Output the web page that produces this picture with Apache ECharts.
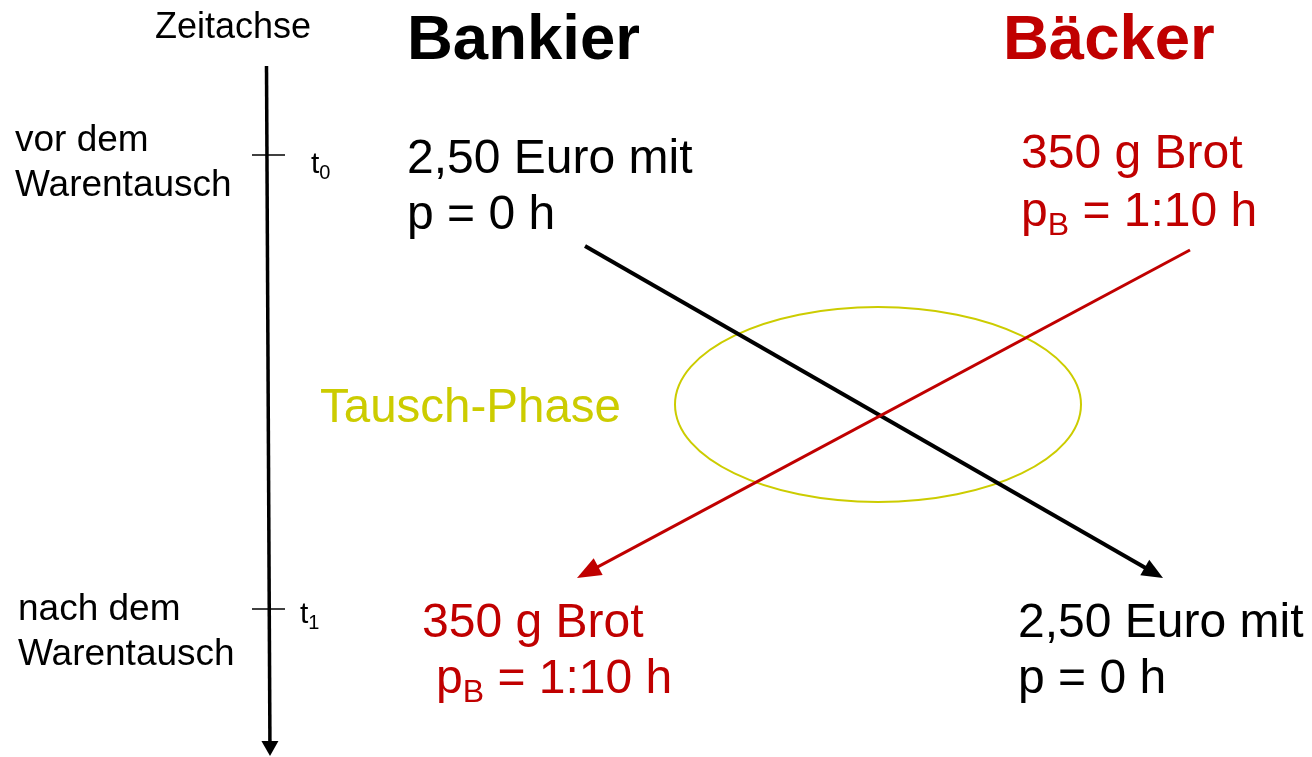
<!DOCTYPE html>
<html><head><meta charset="utf-8">
<script src="https://cdn.jsdelivr.net/npm/echarts@6/dist/echarts.min.js"></script>
<style>html,body{margin:0;padding:0;background:#fff}#c{width:1312px;height:757px}</style>
</head><body><div id="c"></div>
<script>
// Diagram data (in a pixel-like value space 0..1312 x 0..757, y downward)
const timeAxisArrow = [[266.5, 66, 270, 756]];
const tickMarks = [[252, 155, 283, 155], [252, 609, 283, 609]];
const bankierArrow = [[585, 246, 1163, 578]];
const baeckerArrow = [[1190, 250, 577, 578]];
const exchangeEllipse = [[878, 404.5, 203, 97.5]];

const FONT = "'Liberation Sans', Arial, sans-serif";
const RED = '#c00000';
const YEL = '#cccc00';
const DY = 3;

function arrowRender(color, width, headLen, headW) {
  return function (params, api) {
    const p1 = api.coord([api.value(0), api.value(1)]);
    const p2 = api.coord([api.value(2), api.value(3)]);
    const dx = p2[0] - p1[0], dy = p2[1] - p1[1];
    const L = Math.hypot(dx, dy), ux = dx / L, uy = dy / L;
    const bx = p2[0] - ux * headLen, by = p2[1] - uy * headLen;
    const nx = -uy, ny = ux;
    const children = [{
      type: 'line',
      shape: { x1: p1[0], y1: p1[1], x2: bx + ux * 2, y2: by + uy * 2 },
      style: { stroke: color, lineWidth: width }
    }];
    if (headLen > 0) {
      children.push({
        type: 'polygon',
        shape: { points: [[p2[0], p2[1]], [bx + nx * headW / 2, by + ny * headW / 2], [bx - nx * headW / 2, by - ny * headW / 2]] },
        style: { fill: color }
      });
    }
    return { type: 'group', children: children };
  };
}

function txt(x, y, text, size, color, weight) {
  return { type: 'text', x: x, y: y + DY, style: { text: text, font: (weight || 'normal') + ' ' + size + 'px ' + FONT, fill: color, verticalAlign: 'middle', align: 'left' } };
}
function subTxt(x, y, main, sub, rest, size, subSize, color, subLH) {
  return {
    type: 'text', x: x, y: y + DY,
    style: {
      text: '{a|' + main + '}{s|' + sub + '}{a|' + rest + '}',
      verticalAlign: 'middle', align: 'left',
      rich: {
        a: { fontSize: size, fontFamily: FONT, fill: color, lineHeight: size * 1.2 },
        s: { fontSize: subSize, fontFamily: FONT, fill: color, lineHeight: subLH, verticalAlign: 'bottom' }
      }
    }
  };
}

const chart = echarts.init(document.getElementById('c'), null, { renderer: 'canvas' });
chart.setOption({
  animation: false,
  backgroundColor: '#ffffff',
  grid: { left: 0, right: 0, top: 0, bottom: 0 },
  xAxis: { type: 'value', min: 0, max: 1312, show: false },
  yAxis: { type: 'value', min: 0, max: 757, inverse: true, show: false },
  series: [
    { type: 'custom', clip: false, data: timeAxisArrow, renderItem: arrowRender('#000', 3.5, 15, 17) },
    { type: 'custom', clip: false, data: tickMarks, renderItem: arrowRender('#000', 1.5, 0, 0) },
    { type: 'custom', clip: false, data: exchangeEllipse, renderItem: function (params, api) {
        const c = api.coord([api.value(0), api.value(1)]);
        const s = api.size([api.value(2), api.value(3)]);
        return { type: 'ellipse', shape: { cx: c[0], cy: c[1], rx: s[0], ry: s[1] }, style: { fill: 'none', stroke: YEL, lineWidth: 2 } };
      } },
    { type: 'custom', clip: false, data: bankierArrow, renderItem: arrowRender('#000', 4, 21, 18) },
    { type: 'custom', clip: false, data: baeckerArrow, renderItem: arrowRender(RED, 3, 24, 19) }
  ],
  graphic: [
    txt(155, 25, 'Zeitachse', 36, '#000'),
    txt(407, 38, 'Bankier', 63.5, '#000', 'bold'),
    txt(1003, 38, 'Bäcker', 63.5, RED, 'bold'),
    txt(15, 138, 'vor dem', 37, '#000'),
    txt(15, 183, 'Warentausch', 37, '#000'),
    txt(18, 607, 'nach dem', 37, '#000'),
    txt(18, 652, 'Warentausch', 37, '#000'),
    subTxt(311, 162, 't', '0', '', 30, 20, '#000', 10),
    subTxt(300, 612, 't', '1', '', 30, 20, '#000', 10),
    txt(407, 157, '2,50 Euro mit', 48, '#000'),
    txt(407, 213, 'p = 0 h', 48, '#000'),
    txt(1021, 152, '350 g Brot', 48, RED),
    subTxt(1021, 210, 'p', 'B', ' = 1:10 h', 48, 32, RED, 12),
    txt(422, 621, '350 g Brot', 48, RED),
    subTxt(436, 677, 'p', 'B', ' = 1:10 h', 48, 32, RED, 12),
    txt(1018, 621, '2,50 Euro mit', 48, '#000'),
    txt(1018, 677, 'p = 0 h', 48, '#000'),
    txt(320, 406, 'Tausch-Phase', 47.5, YEL)
  ]
});
</script>
</body></html>
